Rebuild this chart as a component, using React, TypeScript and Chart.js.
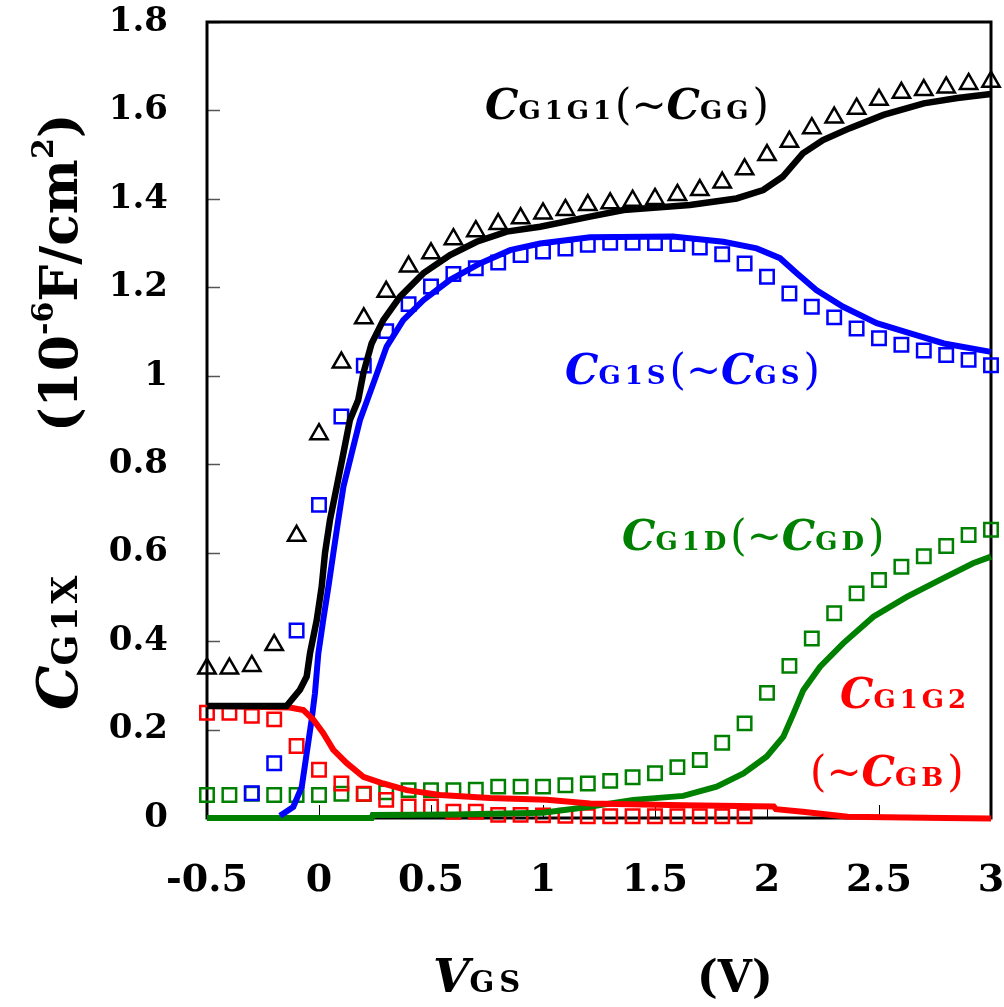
import React, { useEffect, useRef } from 'react';
import { Chart, registerables } from 'chart.js';

Chart.register(...registerables);

// ---------- data ----------
const xTickLabels = ['-0.5', '0', '0.5', '1', '1.5', '2', '2.5', '3'];
const yTickLabels = ['0', '0.2', '0.4', '0.6', '0.8', '1', '1.2', '1.4', '1.6', '1.8'];

// measured points (VGS)
const measX = [-0.5, -0.4, -0.3, -0.2, -0.1, 0, 0.1, 0.2, 0.3, 0.4, 0.5, 0.6, 0.7, 0.8, 0.9, 1.0, 1.1, 1.2, 1.3, 1.4, 1.5, 1.6, 1.7, 1.8, 1.9, 2.0, 2.1, 2.2, 2.3, 2.4, 2.5, 2.6, 2.7, 2.8, 2.9, 3.0];
const cggMeas = [0.338, 0.338, 0.344, 0.391, 0.638, 0.868, 1.03, 1.13, 1.19, 1.247, 1.277, 1.309, 1.327, 1.343, 1.356, 1.367, 1.375, 1.386, 1.39, 1.396, 1.40, 1.409, 1.42, 1.437, 1.467, 1.499, 1.529, 1.56, 1.584, 1.604, 1.624, 1.64, 1.646, 1.652, 1.66, 1.665];
const cgsMeas = [null, null, 0.056, 0.124, 0.424, 0.708, 0.908, 1.023, 1.101, 1.162, 1.202, 1.230, 1.243, 1.256, 1.273, 1.281, 1.288, 1.296, 1.301, 1.301, 1.30, 1.298, 1.29, 1.275, 1.254, 1.224, 1.186, 1.156, 1.132, 1.107, 1.085, 1.07, 1.057, 1.047, 1.036, 1.024];
const cgdMeas = [0.052, 0.052, 0.055, 0.052, 0.052, 0.052, 0.055, 0.054, 0.058, 0.063, 0.063, 0.063, 0.064, 0.071, 0.071, 0.071, 0.074, 0.078, 0.084, 0.092, 0.101, 0.115, 0.131, 0.17, 0.214, 0.283, 0.344, 0.406, 0.463, 0.508, 0.538, 0.568, 0.592, 0.615, 0.64, 0.652];
const cgbMeas = [0.238, 0.238, 0.231, 0.223, 0.163, 0.109, 0.078, 0.055, 0.041, 0.026, 0.026, 0.014, 0.014, 0.007, 0.007, 0.006, 0.005, 0.004, 0.004, 0.004, 0.004, 0.004, 0.004, 0.004, 0.004, null, null, null, null, null, null, null, null, null, null, null];

// simulated curves
const cggSimX = [-0.5, -0.145, -0.085, -0.055, -0.04, -0.01, 0.012, 0.027, 0.049, 0.079, 0.109, 0.138, 0.175, 0.198, 0.235, 0.287, 0.362, 0.466, 0.585, 0.704, 0.838, 0.987, 1.21, 1.36, 1.656, 1.864, 1.983, 2.07, 2.16, 2.25, 2.37, 2.52, 2.70, 2.85, 3.0];
const cggSimY = [0.253, 0.253, 0.29, 0.32, 0.373, 0.448, 0.523, 0.60, 0.674, 0.749, 0.825, 0.90, 0.945, 1.006, 1.073, 1.126, 1.179, 1.232, 1.273, 1.303, 1.326, 1.337, 1.36, 1.375, 1.386, 1.401, 1.42, 1.45, 1.503, 1.533, 1.56, 1.59, 1.616, 1.628, 1.637];

const cgsSimX = [-0.174, -0.115, -0.077, -0.055, -0.033, -0.018, -0.003, 0.019, 0.042, 0.064, 0.086, 0.109, 0.146, 0.183, 0.243, 0.302, 0.376, 0.466, 0.585, 0.719, 0.853, 0.987, 1.21, 1.58, 1.805, 1.954, 2.058, 2.133, 2.22, 2.34, 2.49, 2.64, 2.79, 3.0];
const cgsSimY = [0.005, 0.025, 0.07, 0.146, 0.222, 0.282, 0.372, 0.448, 0.523, 0.599, 0.674, 0.749, 0.825, 0.90, 0.983, 1.066, 1.126, 1.171, 1.217, 1.254, 1.284, 1.299, 1.313, 1.315, 1.303, 1.288, 1.266, 1.232, 1.194, 1.156, 1.119, 1.096, 1.073, 1.054];

const cgbSimX = [-0.5, -0.13, -0.07, -0.025, 0.019, 0.064, 0.124, 0.198, 0.287, 0.392, 0.54, 0.763, 1.016, 1.21, 1.626, 2.03, 2.04, 2.16, 2.36, 2.79, 3.0];
const cgbSimY = [0.253, 0.25, 0.244, 0.222, 0.192, 0.154, 0.124, 0.093, 0.078, 0.063, 0.052, 0.045, 0.041, 0.033, 0.029, 0.026, 0.02, 0.014, 0.003, 0.0, -0.001];

const cgdSimX = [-0.5, 0.235, 0.24, 0.6, 1.0, 1.2, 1.403, 1.626, 1.775, 1.895, 1.999, 2.073, 2.118, 2.162, 2.237, 2.34, 2.475, 2.624, 2.77, 2.92, 3.0];
const cgdSimY = [0.0, 0.0, 0.007, 0.008, 0.012, 0.025, 0.041, 0.05, 0.071, 0.101, 0.139, 0.184, 0.236, 0.289, 0.342, 0.395, 0.455, 0.50, 0.538, 0.576, 0.591];

const BLACK = '#000000';
const BLUE = '#0000ff';
const GREEN = '#008000';
const RED = '#ff0000';

const SERIF = '"DejaVu Serif", serif';

type Seg = { t: string; f: string; dy?: number; ls?: number };

function drawRich(ctx: CanvasRenderingContext2D, x: number, y: number, segs: Seg[], color: string) {
  ctx.fillStyle = color;
  ctx.textBaseline = 'alphabetic';
  ctx.textAlign = 'left';
  let cx = x;
  for (const s of segs) {
    ctx.font = s.f;
    (ctx as any).letterSpacing = (s.ls || 0) + 'px';
    ctx.fillText(s.t, cx, y + (s.dy || 0));
    cx += ctx.measureText(s.t).width;
  }
  (ctx as any).letterSpacing = '0px';
}

const CF = `italic bold 42px ${SERIF}`;
const SF = `bold 26px ${SERIF}`;
const PF = `42px ${SERIF}`;
const label = (sub1: string, sub2: string): Seg[] => [
  { t: 'C', f: CF },
  { t: sub1, f: SF, ls: 4 },
  { t: '(', f: PF },
  { t: '~', f: PF },
  { t: 'C', f: CF },
  { t: sub2, f: SF, ls: 4 },
  { t: ')', f: PF },
];

const decorPlugin = {
  id: 'decor',
  beforeDatasetsDraw(chart: any) {
    const { ctx, chartArea: a, scales } = chart;
    ctx.save();
    ctx.strokeStyle = '#555';
    ctx.lineWidth = 1.5;
    scales.y.ticks.forEach((t: any) => {
      const py = Math.round(scales.y.getPixelForValue(t.value)) + 0.5;
      ctx.beginPath();
      ctx.moveTo(a.left, py);
      ctx.lineTo(a.left + 13, py);
      ctx.stroke();
    });
    ctx.strokeStyle = '#000';
    ctx.lineWidth = 1;
    scales.x.ticks.forEach((t: any) => {
      const px = Math.round(scales.x.getPixelForValue(t.value)) + 0.5;
      ctx.beginPath();
      ctx.moveTo(px, a.bottom);
      ctx.lineTo(px, a.bottom - 13);
      ctx.stroke();
    });
    ctx.strokeStyle = '#000';
    ctx.lineWidth = 3;
    ctx.strokeRect(a.left, a.top, a.right - a.left, a.bottom - a.top);
    ctx.restore();
  },
  afterDraw(chart: any) {
    const { ctx } = chart;
    ctx.save();
    drawRich(ctx, 485, 119, label('G1G1', 'GG'), BLACK);
    drawRich(ctx, 565, 384, label('G1S', 'GS'), BLUE);
    drawRich(ctx, 622, 550, label('G1D', 'GD'), GREEN);
    drawRich(ctx, 840, 708, [{ t: 'C', f: CF }, { t: 'G1G2', f: SF, ls: 4 }], RED);
    drawRich(ctx, 810, 786, [{ t: '(', f: PF }, { t: '~', f: PF }, { t: 'C', f: CF }, { t: 'GB', f: SF, ls: 4 }, { t: ')', f: PF }], RED);

    drawRich(ctx, 433, 992, [{ t: 'V', f: `italic bold 47px ${SERIF}` }, { t: 'GS', f: `bold 29px ${SERIF}`, ls: 5 }], BLACK);
    drawRich(ctx, 697, 992, [{ t: '(V)', f: `bold 44px ${SERIF}` }], BLACK);

    ctx.save();
    ctx.translate(77, 432);
    ctx.rotate(-Math.PI / 2);
    drawRich(ctx, 0, 0, [
      { t: '(', f: `bold 52px ${SERIF}` },
      { t: '10', f: `bold 52px ${SERIF}` },
      { t: '-6', f: `bold 30px ${SERIF}`, dy: -24 },
      { t: 'F/cm', f: `bold 52px ${SERIF}` },
      { t: '2', f: `bold 30px ${SERIF}`, dy: -24 },
      { t: ')', f: `bold 52px ${SERIF}` },
    ], BLACK);
    ctx.restore();
    ctx.save();
    ctx.translate(77, 710);
    ctx.rotate(-Math.PI / 2);
    drawRich(ctx, 0, 0, [
      { t: 'C', f: `italic bold 56px ${SERIF}` },
      { t: 'G1X', f: `bold 36px ${SERIF}`, ls: 3 },
    ], BLACK);
    ctx.restore();
    ctx.restore();
  },
};

function pts(xs: number[], ys: (number | null)[]) {
  const out: { x: number; y: number }[] = [];
  xs.forEach((x, i) => {
    const y = ys[i];
    if (y !== null && y !== undefined) out.push({ x, y });
  });
  return out;
}

function lineDs(xs: number[], ys: number[], color: string, order: number, width: number) {
  return {
    type: 'line' as const,
    data: pts(xs, ys),
    borderColor: color,
    backgroundColor: color,
    borderWidth: width,
    pointRadius: 0,
    showLine: true,
    fill: false,
    tension: 0,
    clip: false as any,
    order,
  };
}

function markDs(ys: (number | null)[], color: string, style: string, radius: number, order: number) {
  return {
    type: 'scatter' as const,
    data: pts(measX, ys),
    borderColor: color,
    backgroundColor: 'rgba(0,0,0,0)',
    borderWidth: 2.5,
    pointRadius: radius,
    pointStyle: style,
    showLine: false,
    clip: false as any,
    order,
  };
}

const zeroPad = (s: any) => {
  s.paddingLeft = 0;
  s.paddingRight = 0;
  s.paddingTop = 0;
  s.paddingBottom = 0;
};

export default function App() {
  const ref = useRef<HTMLCanvasElement | null>(null);
  useEffect(() => {
    if (!ref.current) return;
    const chart = new Chart(ref.current, {
      type: 'scatter',
      data: {
        datasets: [
          markDs(cgdMeas, GREEN, 'rect', 9.5, 13),
          markDs(cgbMeas, RED, 'rect', 9.5, 12),
          markDs(cgsMeas, BLUE, 'rect', 9.5, 11),
          markDs(cggMeas, BLACK, 'triangle', 10, 10),
          lineDs(cgdSimX, cgdSimY, GREEN, 4, 6),
          lineDs(cgsSimX, cgsSimY, BLUE, 3, 6),
          lineDs(cgbSimX, cgbSimY, RED, 2, 6),
          lineDs(cggSimX, cggSimY, BLACK, 1, 6.5),
        ] as any,
      },
      options: {
        animation: false,
        responsive: false,
        devicePixelRatio: 1,
        layout: { padding: { top: 22, right: 13, left: 0, bottom: 0 } },
        plugins: { legend: { display: false }, tooltip: { enabled: false } },
        scales: {
          x: {
            type: 'linear',
            min: -0.5,
            max: 3,
            border: { display: false },
            grid: { display: false, drawTicks: false },
            ticks: {
              stepSize: 0.5,
              padding: 40,
              color: '#000',
              font: { family: SERIF, size: 38, weight: 'bold' },
              callback: (_v: any, i: number) => xTickLabels[i],
              maxRotation: 0,
              autoSkip: false,
            },
            afterFit: (s: any) => { s.height = 189; zeroPad(s); },
          },
          y: {
            type: 'linear',
            min: 0,
            max: 1.8,
            border: { display: false },
            grid: { display: false, drawTicks: false },
            ticks: {
              stepSize: 0.2,
              padding: 39,
              color: '#000',
              font: { family: SERIF, size: 34, weight: 'bold' },
              callback: (_v: any, i: number) => yTickLabels[i],
              autoSkip: false,
            },
            afterFit: (s: any) => { s.width = 207; zeroPad(s); },
          },
        },
      } as any,
      plugins: [decorPlugin],
    });
    return () => chart.destroy();
  }, []);
  return (
    <div style={{ position: 'fixed', left: 0, top: 0, width: 1004, height: 1007, background: '#fff' }}>
      <canvas ref={ref} width={1004} height={1007} style={{ display: 'block' }} />
    </div>
  );
}
